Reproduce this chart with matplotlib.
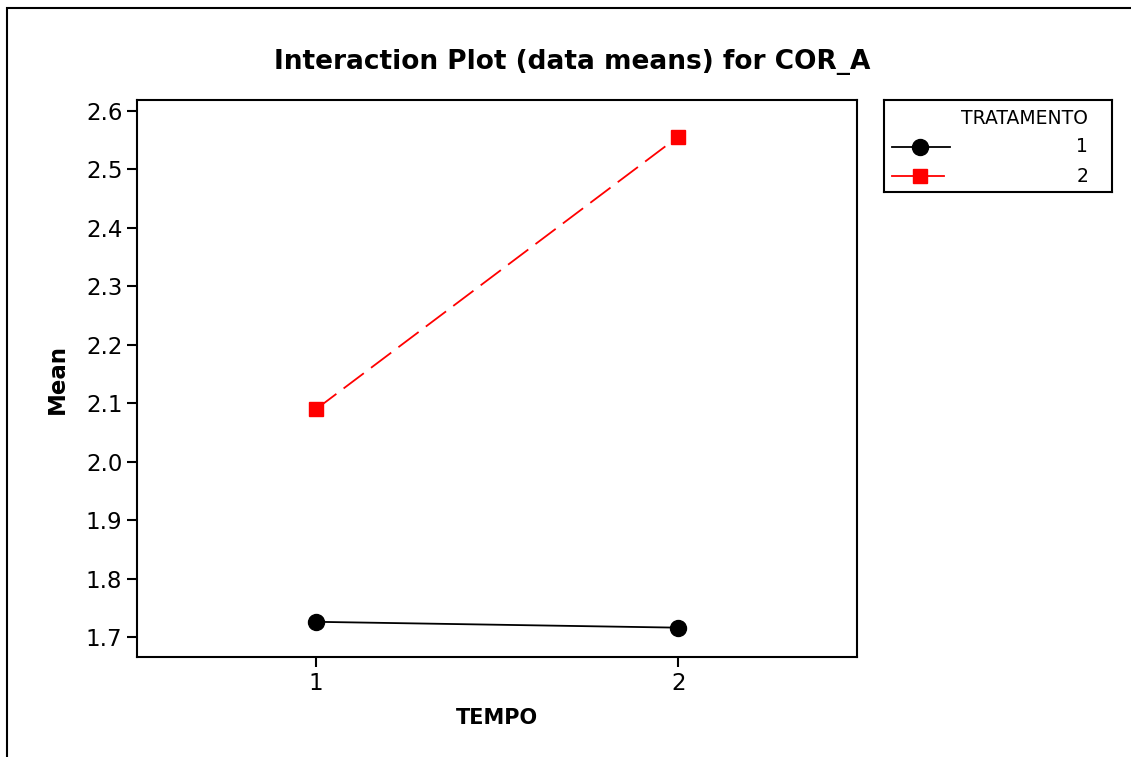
import matplotlib
matplotlib.use("Agg")
import matplotlib.pyplot as plt
from matplotlib.lines import Line2D
from matplotlib.patches import Rectangle

# data means
tempo = [1, 2]
trat_labels = ["1", "2"]
mean_trat1 = [1.726, 1.716]
mean_trat2 = [2.090, 2.556]
y_ticks = [1.7, 1.8, 1.9, 2.0, 2.1, 2.2, 2.3, 2.4, 2.5, 2.6]

plt.rcParams["font.family"] = ["DejaVu Sans"]

W, H = 1131, 757
fig = plt.figure(figsize=(W / 100, H / 100), dpi=100)

# outer frame (only left/top edges visible in the crop)
fig.patches.append(Rectangle((7 / W, -0.1), 1.2, 1 - 8 / H + 0.1,
                             transform=fig.transFigure, fill=False,
                             edgecolor="black", linewidth=1.5))

ax = fig.add_axes([137 / W, 1 - 657 / H, 720 / W, 557 / H])
ax.plot(tempo, mean_trat1, color="black", linewidth=1.3, marker="o",
        markersize=11.5, label=trat_labels[0])
ax.plot(tempo, mean_trat2, color="red", linewidth=1.3, linestyle=(0, (14, 5)),
        marker="s", markersize=9.5, label=trat_labels[1])

ax.set_xlim(0.505, 2.494)
ax.set_ylim(1.6658, 2.6188)
ax.set_xticks(tempo)
ax.set_yticks(y_ticks)
ax.set_yticklabels([f"{v:.1f}" for v in y_ticks])
ax.tick_params(labelsize=16.5, length=7, width=1.5, color="black")
for sp in ax.spines.values():
    sp.set_linewidth(1.5)

ax.set_xlabel("TEMPO", fontsize=15, fontweight="bold", labelpad=10)
ax.set_ylabel("Mean", fontsize=16.5, fontweight="bold", labelpad=12)
fig.text(572 / W, 1 - 62 / H, "Interaction Plot (data means) for COR_A",
         fontsize=19, fontweight="bold", ha="center", va="center")

# legend box drawn by hand so labels sit right-aligned like the original
lax = fig.add_axes([884 / W, 1 - 192 / H, 228 / W, 92 / H])
lax.set_xlim(0, 228)
lax.set_ylim(92, 0)
lax.set_xticks([])
lax.set_yticks([])
for sp in lax.spines.values():
    sp.set_linewidth(1.5)
lax.text(204, 18, "TRATAMENTO", fontsize=13.5, ha="right", va="center")
styles = [dict(color="black", marker="o", markersize=11.5, linestyle="-"),
          dict(color="red", marker="s", markersize=9.5, linestyle="-")]
for i, (lab, st) in enumerate(zip(trat_labels, styles)):
    y = 47 + i * 29
    lax.add_line(Line2D([8, 66 - 6 * i], [y, y], linewidth=1.3, **st,
                        markevery=[]))
    lax.plot([36], [y], color=st["color"], marker=st["marker"],
             markersize=st["markersize"])
    lax.text(204, y, lab, fontsize=13.5, ha="right", va="center")

fig.savefig("out.png", dpi=100)
